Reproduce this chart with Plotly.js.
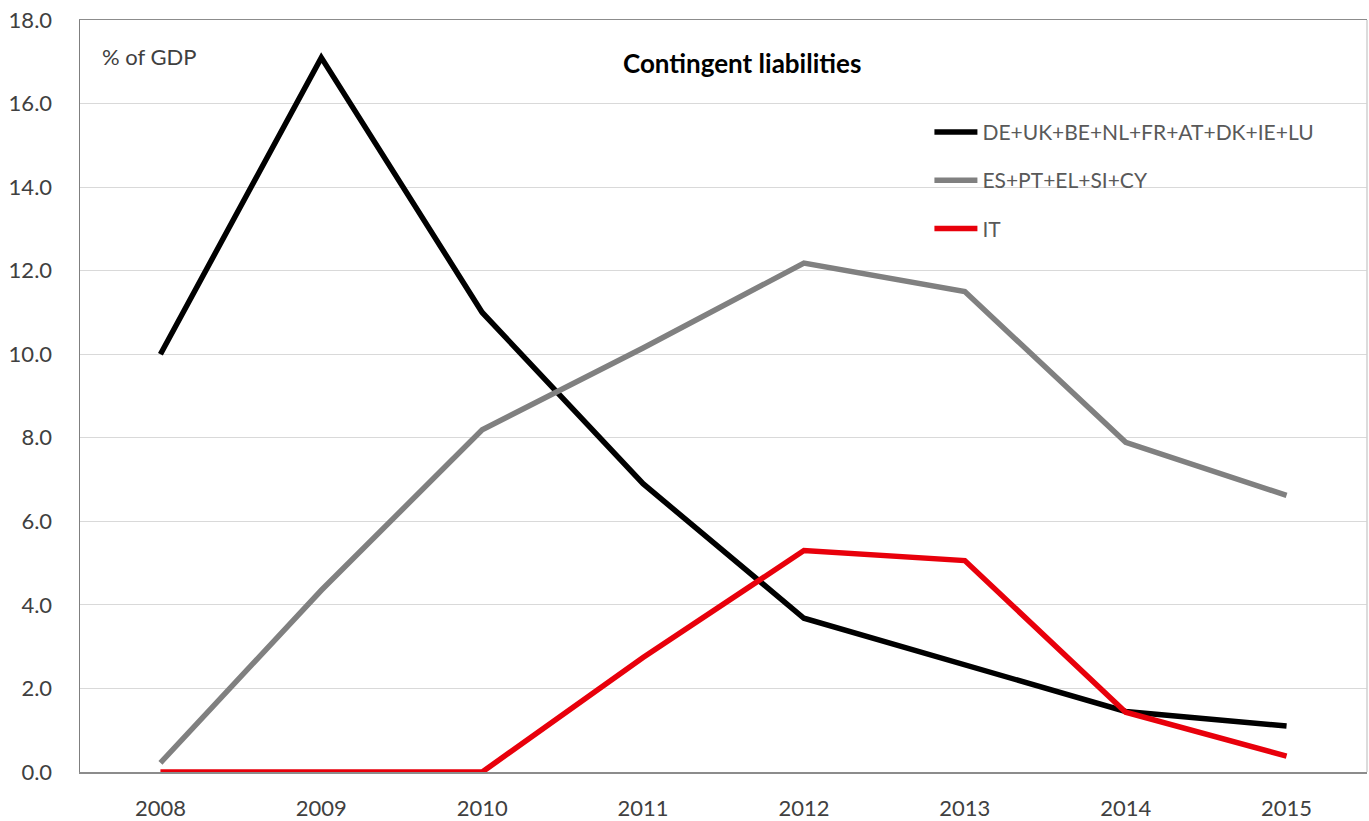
<!DOCTYPE html>
<html>
<head>
<meta charset="utf-8">
<script src="https://cdn.plot.ly/plotly-3.0.1.min.js"></script>
<style>html,body{margin:0;padding:0;background:#fff;}#chart{width:1369px;height:821px;}</style>
</head>
<body>
<div id="chart"></div>
<script>
const years = ['2008','2009','2010','2011','2012','2013','2014','2015'];
const seriesNames = ['DE+UK+BE+NL+FR+AT+DK+IE+LU', 'ES+PT+EL+SI+CY', 'IT'];
const coreValues = [10.0, 17.1, 11.0, 6.9, 3.68, 2.56, 1.45, 1.1];
const periphValues = [0.22, 4.35, 8.19, 10.15, 12.18, 11.5, 7.89, 6.62];
const itValues = [0.0, 0.0, 0.0, 2.74, 5.3, 5.06, 1.43, 0.38];
const colors = ['#000000', '#808080', '#e8000b'];
const yTicks = [0, 2, 4, 6, 8, 10, 12, 14, 16, 18];

const FONT = 'Lato, "Open Sans", sans-serif';
const allValues = [coreValues, periphValues, itValues];
const traces = allValues.map((v, i) => ({
  type: 'scatter', mode: 'lines', x: years, y: v, name: seriesNames[i],
  legendgroup: 'g' + i,
  line: {color: colors[i], width: 5.5, shape: 'linear'},
  hoverinfo: 'x+y+name'
}));

const layout = {
  width: 1369, height: 821,
  margin: {l: 80, r: 2, t: 20, b: 49},
  paper_bgcolor: '#ffffff', plot_bgcolor: '#ffffff',
  font: {family: FONT, size: 21, color: '#404040'},
  showlegend: true,
  legend: {
    x: 0.66, y: 0.878, xanchor: 'left', yanchor: 'top',
    bgcolor: 'rgba(255,255,255,0)', borderwidth: 0,
    font: {family: FONT, size: 21, color: '#595959'},
    traceorder: 'grouped', tracegroupgap: 18, itemwidth: 43
  },
  xaxis: {
    type: 'category', range: [-0.5, 7.5],
    showgrid: false, zeroline: false,
    showline: true, linecolor: '#8c8c8c', linewidth: 1.5, mirror: true,
    ticks: '', ticklabelstandoff: 16,
    tickfont: {family: FONT, size: 22, color: '#404040'}
  },
  yaxis: {
    range: [0, 18], tickvals: yTicks, ticktext: yTicks.map(t => t.toFixed(1)),
    showgrid: true, gridcolor: '#d9d9d9', gridwidth: 1.2,
    zeroline: false, showline: true, linecolor: '#7f7f7f', linewidth: 1.5,
    ticks: '', ticklabelstandoff: 22,
    tickfont: {family: FONT, size: 22, color: '#404040'}
  },
  shapes: [
    {type: 'line', xref: 'paper', yref: 'paper', x0: 1, x1: 1, y0: 0, y1: 1,
     line: {color: '#d0d0d0', width: 1.5}}
  ],
  annotations: [
    {text: '<b>Contingent liabilities</b>', xref: 'paper', yref: 'paper',
     x: 0.514, y: 0.943, xanchor: 'center', yanchor: 'middle', showarrow: false,
     font: {family: FONT, size: 26, color: '#000000'}},
    {text: '% of GDP', xref: 'paper', yref: 'paper',
     x: 0.0155, y: 0.951, xanchor: 'left', yanchor: 'middle', showarrow: false,
     font: {family: FONT, size: 22, color: '#404040'}}
  ]
};

Plotly.newPlot('chart', traces, layout, {displayModeBar: false, staticPlot: true});
</script>
</body>
</html>
